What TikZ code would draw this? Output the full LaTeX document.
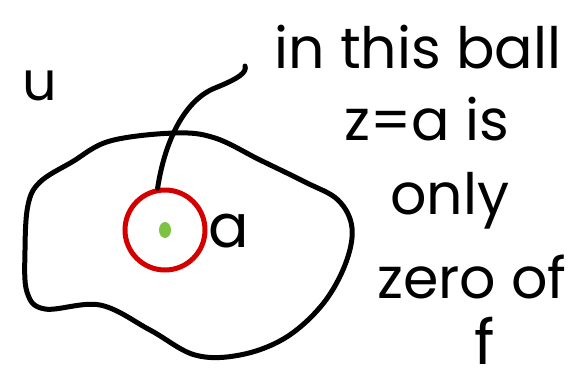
\documentclass[tikz,border=0pt]{standalone}
\usepackage{fontspec}
\setmainfont{Poppins}
\usetikzlibrary{calc,positioning}
\definecolor{ballred}{HTML}{D40000}
\definecolor{dotgreen}{HTML}{7DC242}

\begin{document}
\begin{tikzpicture}[
 x=1pt, y=-1pt,
 ink/.style={line width=5pt, line cap=round, line join=round, #1},
 hand/.style={font=\fontsize{#1}{#1}\selectfont, inner sep=0pt},
]
\useasboundingbox (0,0) rectangle (577,388);

% Region U
\draw[ink=black] plot[smooth cycle, tension=0.6] coordinates {
 (175,133) (110,141) (72,162) (40,182) (28,205) (25,250) (27,292)
 (45,309) (100,305) (150,330) (195,355) (240,355) (285,338)
 (322,305) (345,265) (352,228) (338,200) (305,182) (260,160) (215,138)
};
\node[hand=54] (U) at (40,100) [anchor=base] {u};

% Ball round a
\node[circle, draw=ballred, line width=5pt, minimum size=80pt, inner sep=0pt] (ball) at (165,230) {};
\fill[dotgreen] (ball.center) ellipse (6pt and 8pt);
\node[hand=60, right=1pt of ball.east, anchor=base west, yshift=-17pt] (a) {a};

% Leader to note
\coordinate (tip) at (245,66);
\draw[ink=black] (ball.100) .. controls (165,140) and (185,100) .. (215,88)
 .. controls (240,78) and (247,72) .. (tip);

% Note
\node[hand=57, anchor=base] (line1) at (418,68) {in this ball};
\node[hand=57, anchor=base] (line2) at (427,140) {z=a is};
\node[hand=57, anchor=base] (line3) at (450,214) {only};
\node[hand=57, anchor=base] (line4) at (472,298) {zero of};
\node[hand=62, anchor=base] (line5) at (485,364) {f};
\end{tikzpicture}
\end{document}
